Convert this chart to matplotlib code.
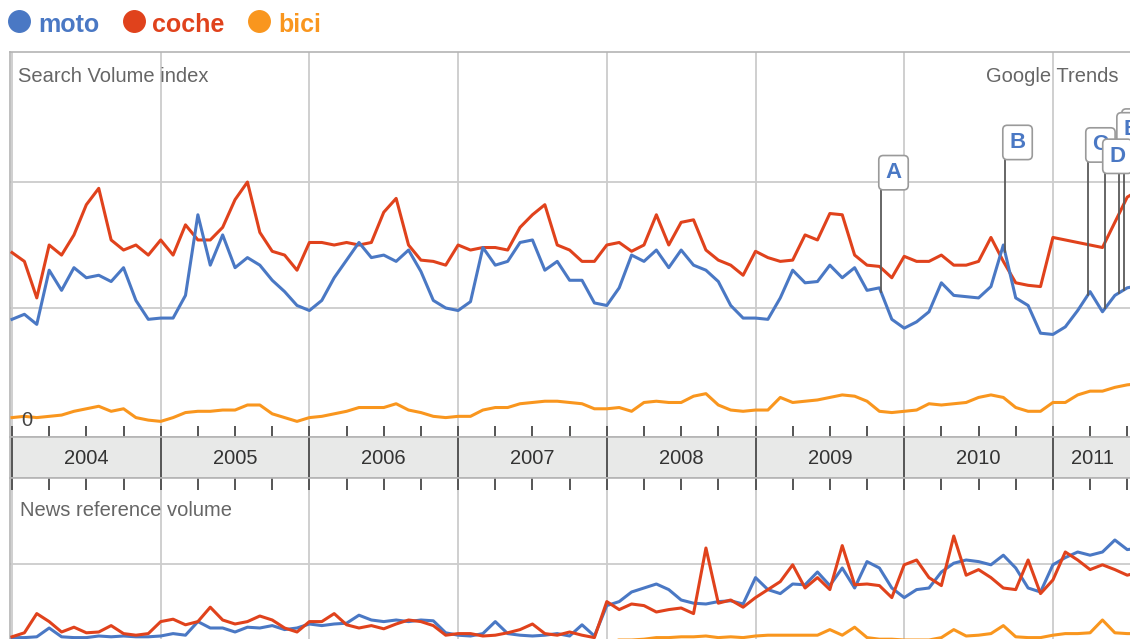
import matplotlib
matplotlib.use("Agg")
import matplotlib.pyplot as plt
from matplotlib.lines import Line2D
import numpy as np

plt.rcParams['font.family'] = ['Liberation Sans', 'DejaVu Sans']

# monthly readings, Jan 2004 onwards (search volume index x100)
moto = [91, 95, 87, 130, 114, 132, 124, 126, 121, 132, 106, 91,
        92, 92, 110, 174, 134, 158, 132, 140, 134, 122, 113, 102,
        98, 106, 124, 138, 152, 140, 142, 137, 146, 129, 106, 100,
        98, 105, 148, 134, 137, 152, 154, 130, 137, 122, 122, 104,
        102, 116, 142, 137, 146, 132, 146, 134, 130, 121, 102, 92,
        92, 91, 108, 130, 120, 121, 134, 124, 132, 114, 116, 91,
        84, 89, 97, 120, 110, 109, 108, 117, 150, 108, 102, 80,
        79, 85, 98, 113, 97, 110, 116, 118]
coche = [144, 137, 108, 150, 142, 158, 182, 195, 154, 146, 150, 142,
         154, 142, 166, 154, 154, 164, 186, 200, 160, 145, 142, 130,
         152, 152, 150, 152, 150, 152, 176, 187, 150, 138, 137, 134,
         150, 146, 148, 148, 146, 164, 174, 182, 150, 146, 137, 137,
         150, 152, 145, 150, 174, 150, 168, 170, 146, 138, 134, 126,
         145, 140, 137, 138, 158, 154, 175, 174, 142, 134, 133, 124,
         141, 137, 137, 142, 134, 134, 137, 156, 137, 120, 118, 117,
         156, 154, 152, 150, 148, 168, 188, 194]
bici = [13, 14, 13, 14, 15, 18, 20, 22, 18, 20, 13, 11,
        10, 13, 17, 18, 18, 19, 19, 23, 23, 16, 13, 10,
        13, 14, 16, 18, 21, 21, 21, 24, 19, 17, 14, 13,
        14, 14, 19, 21, 21, 24, 25, 26, 26, 25, 24, 20,
        20, 21, 18, 25, 26, 25, 25, 30, 32, 23, 19, 18,
        19, 19, 29, 25, 26, 27, 29, 31, 30, 26, 18, 17,
        18, 19, 24, 23, 24, 25, 29, 31, 29, 21, 18, 18,
        25, 25, 31, 34, 34, 37, 39, 40]

# news reference volume
moto_news = [8, 8, 9, 20, 9, 8, 8, 10, 9, 10, 9, 9,
             10, 13, 11, 28, 20, 20, 15, 21, 20, 23, 18, 20,
             25, 23, 25, 26, 36, 30, 28, 30, 28, 30, 29, 14,
             11, 10, 13, 28, 13, 11, 10, 11, 13, 10, 24, 10,
             48, 53, 65, 70, 75, 68, 55, 51, 50, 53, 54, 50,
             83, 68, 63, 75, 74, 90, 73, 95, 70, 103, 95, 70,
             58, 68, 70, 90, 101, 105, 103, 99, 111, 95, 70, 65,
             99, 108, 115, 111, 115, 130, 118, 120]
coche_news = [9, 14, 38, 28, 15, 21, 14, 15, 23, 13, 11, 13,
              28, 31, 24, 28, 46, 30, 25, 28, 35, 30, 20, 15,
              28, 28, 38, 24, 20, 23, 19, 25, 30, 28, 23, 11,
              13, 13, 10, 11, 14, 18, 25, 13, 11, 15, 11, 8,
              53, 43, 50, 48, 40, 43, 45, 38, 120, 51, 55, 46,
              58, 68, 78, 99, 70, 83, 68, 123, 74, 75, 73, 58,
              99, 105, 83, 73, 135, 86, 93, 83, 70, 68, 105, 63,
              80, 115, 105, 93, 99, 93, 86, 90]
bici_news = [2, 2, 3, 2, 2, 3, 2, 2, 3, 2, 2, 2,
             2, 3, 2, 3, 2, 3, 3, 2, 4, 3, 2, 2,
             2, 3, 3, 2, 3, 2, 3, 2, 4, 4, 3, 2,
             2, 3, 3, 2, 3, 3, 3, 2, 3, 3, 4, 3,
             4, 5, 5, 6, 8, 8, 9, 9, 10, 8, 9, 8,
             10, 11, 11, 11, 11, 11, 18, 11, 21, 8, 6, 6,
             5, 5, 5, 8, 18, 10, 11, 13, 23, 9, 8, 8,
             11, 13, 13, 14, 30, 14, 13, 13]

years = [2004, 2005, 2006, 2007, 2008, 2009, 2010, 2011]
# the box behind "E" has its letter hidden
flag_labels = ['  ', 'E', 'A', 'B', 'C', 'D']
flag_dates = [2011.478, 2011.445, 2009.844, 2010.678, 2011.236, 2011.35]
flag_tops = [231, 228, 194, 218, 216, 207]

BLUE = '#4a78c4'
RED = '#e0421c'
ORANGE = '#f9961e'
GRID = '#cccccc'
EDGE = '#b4b4b4'
TICK = '#555555'

dates = 2004 + np.arange(len(moto)) / 12.0

W, H = 1130, 639
fig = plt.figure(figsize=(W / 100, H / 100), dpi=100)


def rect(l, t, r, b):
    return [l / W, 1 - b / H, (r - l) / W, (b - t) / H]


xmin = 2004 - 2 / 148.7
xmax = 2004 + (1140 - 12) / 148.7
quarters = [y + q for y in years for q in (0.25, 0.5, 0.75)]

ax = fig.add_axes(rect(10, 52, 1140, 437))
band = fig.add_axes(rect(10, 437, 1140, 478))
axn = fig.add_axes(rect(10, 478, 1140, 644))

for a in (ax, band, axn):
    for s in a.spines.values():
        s.set_color(EDGE)
        s.set_linewidth(1.2)
    a.spines['right'].set_visible(False)

# search volume panel
ax.set_yticks([100, 200])
ax.set_xticks(years)
ax.set_xticks(quarters, minor=True)
ax.set_ylim(-2.4, 303.2)
ax.grid(True, axis='both', which='major', color=GRID, lw=1.3)
ax.tick_params(axis='y', length=0, labelleft=False)
ax.tick_params(axis='x', which='both', direction='in', length=8, width=1.4,
               color=TICK, labelbottom=False)
ax.plot(dates, bici, color=ORANGE, lw=2.2, zorder=3)
ax.plot(dates, coche, color=RED, lw=2.2, zorder=3)
ax.plot(dates, moto, color=BLUE, lw=2.2, zorder=3)

for lab, d, top in zip(flag_labels, flag_dates, flag_tops):
    base = np.interp(d, dates, moto)
    ax.plot([d, d], [base, top], color='#5a5a5a', lw=1.3, zorder=5)
    ax.annotate(lab, xy=(d, top), xytext=(3.2, 4.6), textcoords='offset points',
                ha='left', va='bottom', color=BLUE, fontsize=16, weight='bold',
                zorder=6, annotation_clip=False,
                bbox=dict(boxstyle='round,pad=0.3,rounding_size=0.2',
                          fc='white', ec='#9a9a9a', lw=1.2))
ax.set_xlim(xmin, xmax)

# year band
band.set_facecolor('#e8e9e8')
band.set_ylim(0, 1)
band.set_yticks([])
band.set_xticks([])
band.vlines(years, 0, 1, color=TICK, lw=1.4)
for y in years[:-1]:
    band.text(y + 0.5, 0.47, str(y), ha='center', va='center', fontsize=14.5, color='#333333')
band.text(2011.263, 0.47, '2011', ha='center', va='center', fontsize=14.5, color='#333333')
band.set_xlim(xmin, xmax)

# news panel
axn.set_yticks([100])
axn.set_xticks(years)
axn.set_xticks(quarters, minor=True)
axn.set_ylim(0, 207.5)
axn.grid(True, axis='both', which='major', color=GRID, lw=1.3)
axn.xaxis.tick_top()
axn.tick_params(axis='y', length=0, labelleft=False)
axn.tick_params(axis='x', which='both', direction='in', length=8.5, width=1.4,
                color=TICK, labeltop=False, labelbottom=False)
axn.plot(dates, bici_news, color=ORANGE, lw=2.2, zorder=3)
axn.plot(dates, moto_news, color=BLUE, lw=2.2, zorder=3)
axn.plot(dates, coche_news, color=RED, lw=2.2, zorder=3)
axn.set_xlim(xmin, xmax)

# labels
fig.text(18 / W, 1 - 77 / H, 'Search Volume index', fontsize=14.5, color='#666666', va='center')
fig.text(1118 / W, 1 - 77 / H, 'Google Trends', fontsize=14.5, color='#666666', va='center', ha='right')
fig.text(20 / W, 1 - 510 / H, 'News reference volume', fontsize=14.5, color='#666666', va='center')
fig.text(27 / W, 1 - 421 / H, '0', fontsize=14.5, color='#444444', va='center', ha='center')

# legend
for name, col, cx, tx in [('moto', BLUE, 19, 38), ('coche', RED, 134, 152), ('bici', ORANGE, 259, 278)]:
    fig.add_artist(Line2D([cx / W], [1 - 21 / H], marker='o', markersize=15.5, color=col,
                          transform=fig.transFigure))
    fig.text(tx / W, 1 - 32 / H, name, fontsize=18, weight='bold', color=col, va='baseline')

fig.savefig('out.png', dpi=100)
